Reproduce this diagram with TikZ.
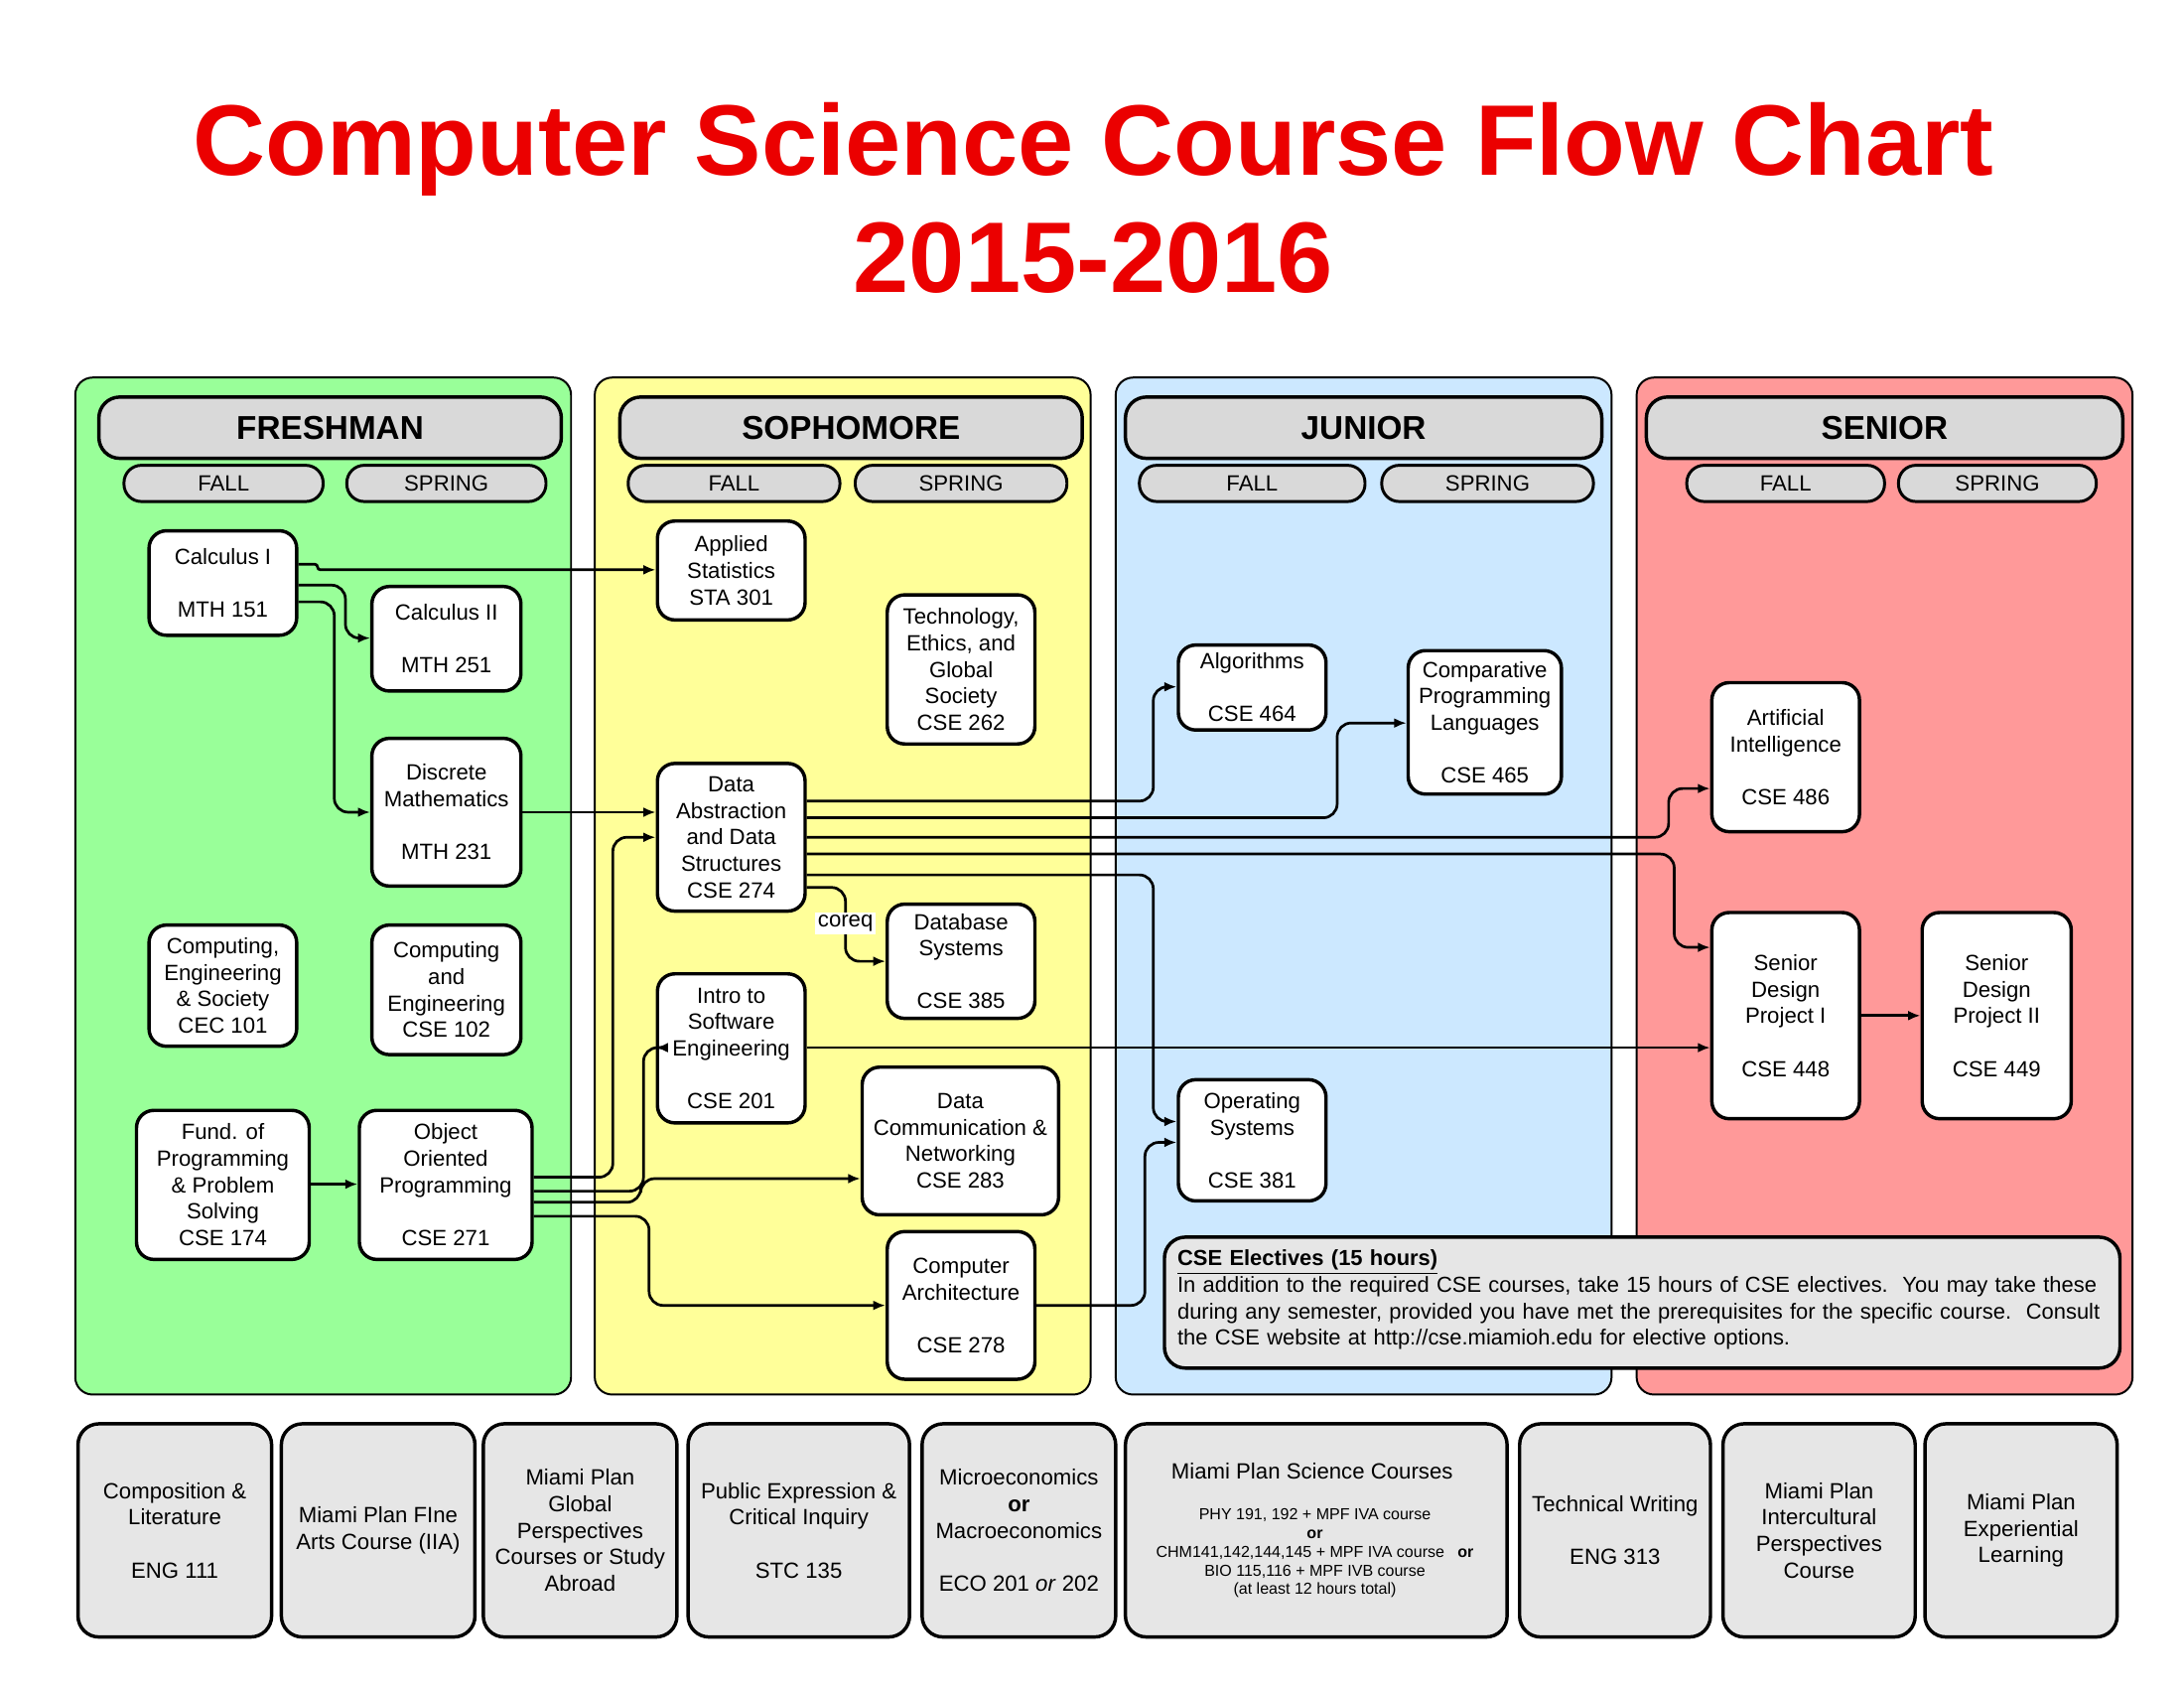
\documentclass[tikz,border=0pt]{standalone}
\usepackage{fontspec}
\setmainfont{Liberation Sans}
\usetikzlibrary{arrows.meta}
\definecolor{titlered}{RGB}{235,0,0}
\definecolor{pgreen}{RGB}{153,255,153}
\definecolor{pyellow}{RGB}{255,255,153}
\definecolor{pblue}{RGB}{204,232,255}
\definecolor{pred}{RGB}{255,153,153}
\definecolor{hgray}{RGB}{217,217,217}
\definecolor{bgray}{RGB}{230,230,230}
\tikzset{
 panel/.style={draw=black, line width=0.8pt, rounded corners=0.25cm},
 course/.style={draw, line width=1.4pt, rounded corners=0.25cm, fill=white, align=center, inner sep=0pt, font=\fontsize{9}{10.8}\selectfont},
 hdr/.style={draw, line width=1.4pt, rounded corners=0.3cm, fill=hgray, inner sep=0pt, font=\fontsize{13.5}{16}\selectfont\bfseries},
 sem/.style={draw, line width=1.2pt, rounded corners=0.25cm, fill=hgray, inner sep=0pt, font=\fontsize{9}{10.8}\selectfont},
 bot/.style={draw, line width=1.4pt, rounded corners=0.3cm, fill=bgray, align=center, inner sep=0pt, font=\fontsize{9}{10.8}\selectfont},
 conn/.style={line width=1.1pt, rounded corners=0.2cm, -{Latex[length=5pt,width=4pt]}},
}
\newcommand\cnode[7][course]{\node[#1, minimum width={(#4-#3)*0.02cm}, minimum height={(#6-#5)*0.02cm}] (#2) at ({(#3+#4)/2},{(#5+#6)/2}) {#7};}
\begin{document}
\begin{tikzpicture}[x=0.02cm,y=-0.02cm]
\useasboundingbox (0,0) rectangle (1568,1212);
\node[text=titlered, font=\fontsize{41}{48}\selectfont\bfseries, align=center] (title) at (785,142) {Computer Science Course Flow Chart\\2015-2016};
% panels
\draw[panel, fill=pgreen] (54,271) rectangle (410,1001);
\draw[panel, fill=pyellow] (427,271) rectangle (783,1001);
\draw[panel, fill=pred] (1175,271) rectangle (1531,1001);
\draw[panel, fill=pblue] (801,271) rectangle (1157,1001);
% headers
\cnode[hdr]{hf}{71}{403}{285}{329}{FRESHMAN}
\cnode[hdr]{hs}{445}{777}{285}{329}{SOPHOMORE}
\cnode[hdr]{hj}{808}{1150}{285}{329}{JUNIOR}
\cnode[hdr]{hr}{1182}{1524}{285}{329}{SENIOR}
\cnode[sem]{f1}{89}{232}{334}{360}{FALL}
\cnode[sem]{f2}{249}{392}{334}{360}{SPRING}
\cnode[sem]{s1}{451}{603}{334}{360}{FALL}
\cnode[sem]{s2}{614}{766}{334}{360}{SPRING}
\cnode[sem]{j1}{818}{980}{334}{360}{FALL}
\cnode[sem]{j2}{992}{1144}{334}{360}{SPRING}
\cnode[sem]{r1}{1211}{1353}{334}{360}{FALL}
\cnode[sem]{r2}{1363}{1505}{334}{360}{SPRING}
% courses
\cnode{m151}{107}{213}{381}{456}{Calculus I\\[10.8pt]MTH 151}
\cnode{m251}{267}{374}{421}{496}{Calculus II\\[10.8pt]MTH 251}
\cnode{m231}{267}{374}{530}{636}{Discrete\\Mathematics\\[10.8pt]MTH 231}
\cnode{c101}{107}{213}{664}{751}{Computing,\\Engineering\\\& Society\\CEC 101}
\cnode{c102}{267}{374}{664}{757}{Computing\\and\\Engineering\\CSE 102}
\cnode{c174}{98}{222}{797}{904}{Fund. of\\Programming\\\& Problem\\Solving\\CSE 174}
\cnode{c271}{258}{382}{797}{904}{Object\\Oriented\\Programming\\[10.8pt]CSE 271}
\cnode{s301}{472}{578}{374}{445}{Applied\\Statistics\\STA 301}
\cnode{c262}{637}{743}{427}{534}{Technology,\\Ethics, and\\Global\\Society\\CSE 262}
\cnode{c274}{472}{578}{548}{654}{Data\\Abstraction\\and Data\\Structures\\CSE 274}
\cnode{c385}{637}{743}{649}{731}{Database\\Systems\\[10.8pt]CSE 385}
\cnode{c201}{472}{578}{699}{806}{Intro to\\Software\\Engineering\\[10.8pt]CSE 201}
\cnode{c283}{619}{760}{766}{872}{Data\\Communication \&\\Networking\\CSE 283}
\cnode{c278}{637}{743}{884}{990}{Computer\\Architecture\\[10.8pt]CSE 278}
\cnode{c464}{846}{952}{463}{524}{Algorithms\\[10.8pt]CSE 464}
\cnode{c465}{1011}{1121}{467}{570}{Comparative\\Programming\\Languages\\[10.8pt]CSE 465}
\cnode{c381}{846}{952}{775}{862}{Operating\\Systems\\[10.8pt]CSE 381}
\cnode{c486}{1229}{1335}{490}{597}{Artificial\\Intelligence\\[10.8pt]CSE 486}
\cnode{c448}{1229}{1335}{655}{803}{Senior\\Design\\Project I\\[10.8pt]CSE 448}
\cnode{c449}{1380}{1487}{655}{803}{Senior\\Design\\Project II\\[10.8pt]CSE 449}
% electives
\cnode[bot]{elec}{836}{1522}{888}{982}{}
\node[anchor=north west, align=left, inner sep=0pt, font=\fontsize{8.9}{10.8}\selectfont, text width=13.5cm] (electxt) at (845,897) {\textbf{\underline{CSE Electives (15 hours)}}\\In addition to the required CSE courses, take 15 hours of CSE electives.\ \ You may take these during any semester, provided you have met the prerequisites for the specific course.\ \ Consult the CSE website at http://cse.miamioh.edu for elective options.};
% connectors
\draw[conn, rounded corners=0.04cm] (m151.east |- 0,405) -- (228,405) -- (228,409) -- (s301.west |- 0,409);
\draw[conn] (m151.east |- 0,420) -- (248,420) -- (248,458) -- (m251.west |- 0,458);
\draw[conn] (m151.east |- 0,432) -- (240,432) -- (240,583) -- (m231.west |- 0,583);
\draw[conn] (m231.east |- 0,583) -- (c274.west |- 0,583);
\draw[conn] (c274.east |- 0,575) -- (828,575) -- (828,493) -- (c464.west |- 0,493);
\draw[conn] (c274.east |- 0,587) -- (960,587) -- (960,519) -- (c465.west |- 0,519);
\draw[conn] (c274.east |- 0,601) -- (1198,601) -- (1198,566) -- (c486.west |- 0,566);
\draw[conn] (c274.east |- 0,613) -- (1202,613) -- (1202,680) -- (c448.west |- 0,680);
\draw[conn] (c274.east |- 0,628) -- (828,628) -- (828,805) -- (c381.west |- 0,805);
\draw[conn] (c274.east |- 0,637) -- (607,637) -- (607,690) -- (c385.west |- 0,690);
\node[fill=white, inner sep=1pt, font=\fontsize{9}{10.8}\selectfont] (coreq) at (607,663) {coreq};
\draw[conn] (c201.east |- 0,752) -- (c448.west |- 0,752);
\draw[conn] (c271.east |- 0,845) -- (440,845) -- (440,601) -- (c274.west |- 0,601);
\draw[conn] (c271.east |- 0,855) -- (462,855) -- (462,752) -- (c201.west |- 0,752);
\draw[conn] (c271.east |- 0,863) -- (460,863) -- (460,846) -- (c283.west |- 0,846);
\draw[conn] (c271.east |- 0,873) -- (466,873) -- (466,937) -- (c278.west |- 0,937);
\draw[conn] (c174.east |- 0,850) -- (c271.west |- 0,850);
\draw[conn] (c448.east |- 0,729) -- (c449.west |- 0,729);
\draw[conn] (c278.east |- 0,937) -- (822,937) -- (822,820) -- (c381.west |- 0,820);
% bottom
\cnode[bot]{b1}{56}{195}{1022}{1175}{Composition \&\\Literature\\[10.8pt]ENG 111}
\cnode[bot]{b2}{202}{341}{1022}{1175}{Miami Plan FIne\\Arts Course (IIA)}
\cnode[bot]{b3}{347}{486}{1022}{1175}{Miami Plan\\Global\\Perspectives\\Courses or Study\\Abroad}
\cnode[bot]{b4}{494}{653}{1022}{1175}{Public Expression \&\\Critical Inquiry\\[10.8pt]STC 135}
\cnode[bot]{b5}{662}{801}{1022}{1175}{Microeconomics\\\textbf{or}\\Macroeconomics\\[10.8pt]ECO 201 \textit{or} 202}
\cnode[bot]{b6}{808}{1082}{1022}{1175}{}
\node[align=center, inner sep=0pt, font=\fontsize{9}{10.8}\selectfont] (sci) at (942,1056) {Miami Plan Science Courses};
\node[align=center, inner sep=0pt, font=\fontsize{6.5}{7.6}\selectfont] (scid) at (944,1115) {PHY 191, 192 + MPF IVA course\\\textbf{or}\\CHM141,142,144,145 + MPF IVA course\ \ \ \textbf{or}\\BIO 115,116 + MPF IVB course\\(at least 12 hours total)};
\cnode[bot]{b7}{1091}{1228}{1022}{1175}{Technical Writing\\[10.8pt]ENG 313}
\cnode[bot]{b8}{1237}{1375}{1022}{1175}{Miami Plan\\Intercultural\\Perspectives\\Course}
\cnode[bot]{b9}{1382}{1520}{1022}{1175}{Miami Plan\\Experiential\\Learning}
\end{tikzpicture}
\end{document}
